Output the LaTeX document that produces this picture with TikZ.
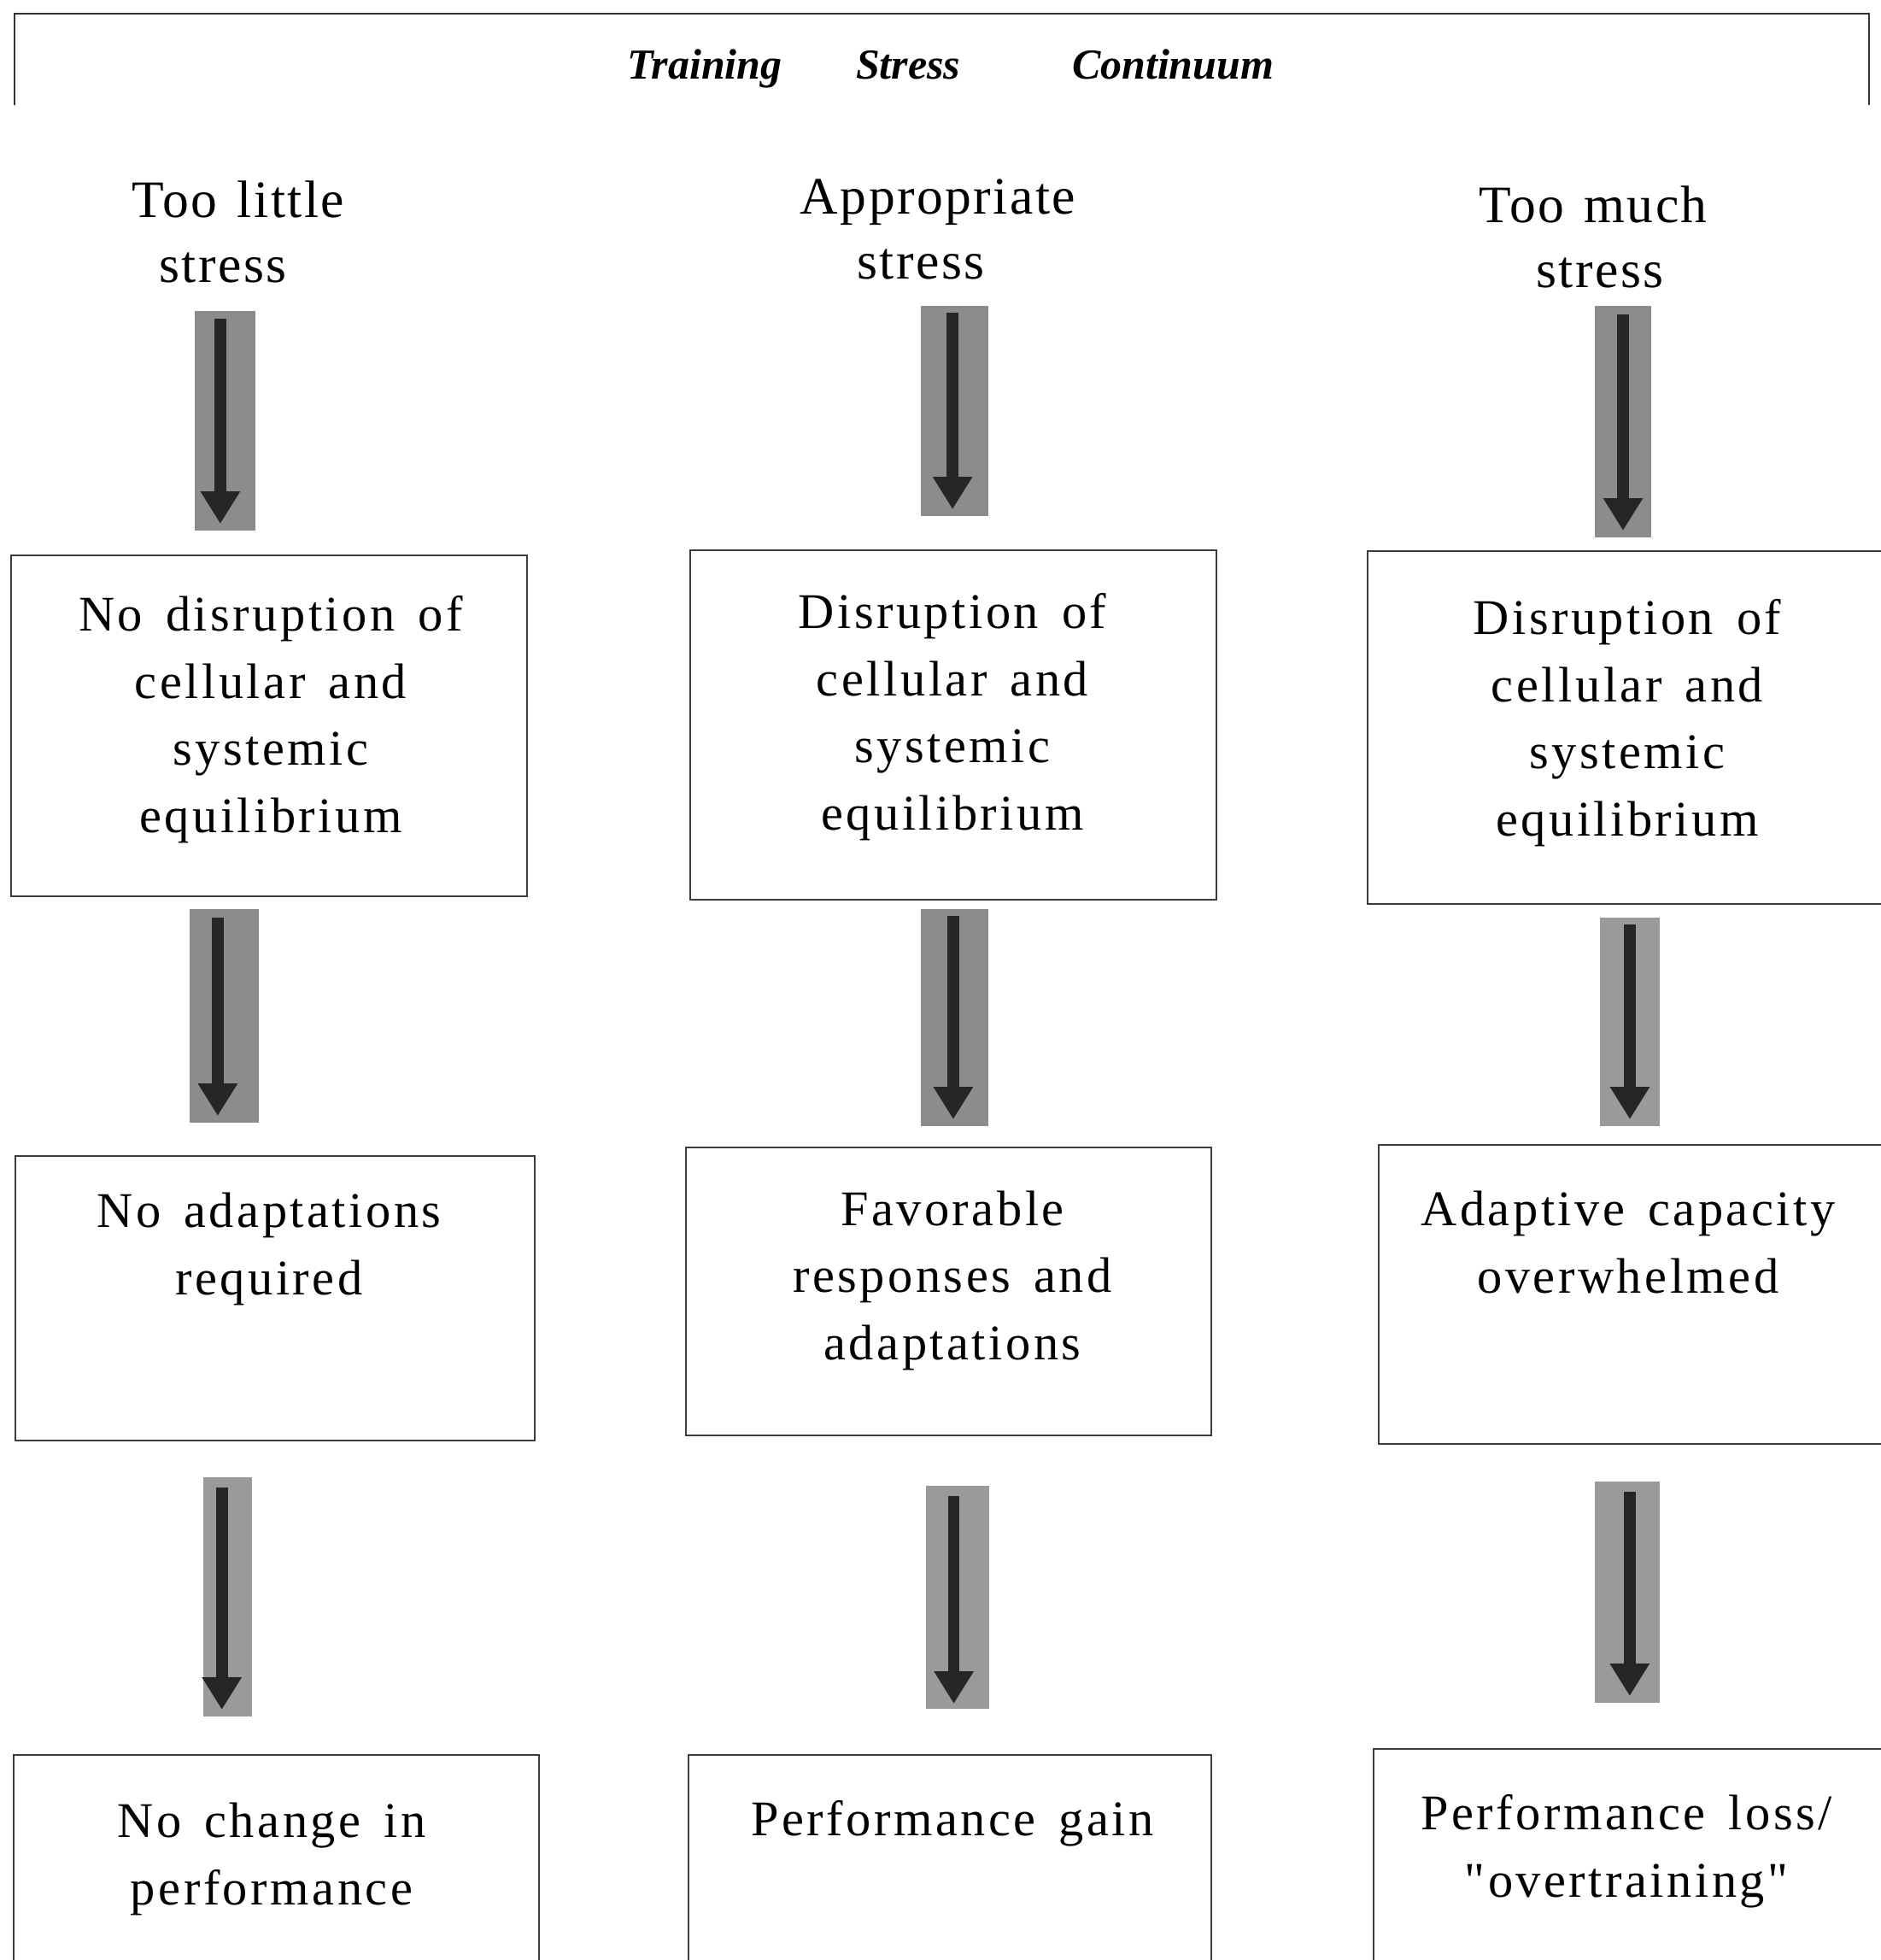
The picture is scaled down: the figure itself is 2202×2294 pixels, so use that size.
\documentclass[tikz,border=0pt]{standalone}
\usepackage{fontspec}
\setmainfont{Liberation Serif}
\newfontfamily\boxfont[LetterSpace=6,WordSpace=1.5]{Liberation Serif}
\newfontfamily\lblfont[LetterSpace=4,WordSpace=1.3]{Liberation Serif}
\usetikzlibrary{arrows.meta}
\definecolor{framecol}{HTML}{333333}
\definecolor{boxcol}{HTML}{3C3C3C}
\definecolor{greyA}{HTML}{8C8C8C}
\definecolor{greyB}{HTML}{9A9A9A}
\definecolor{arrowcol}{HTML}{262626}
\tikzset{
  every node/.style={inner sep=0pt, outer sep=0pt},
  boxnode/.style={draw=boxcol, line width=0.55pt, anchor=north west},
  greybox/.style={fill=#1, draw=none, anchor=north west},
  boxtxt/.style={font=\boxfont\fontsize{14.6pt}{19.6pt}\selectfont, align=center, anchor=base},
  lbl/.style={font=\lblfont\fontsize{15.4pt}{19pt}\selectfont, align=center, anchor=base},
  ttl/.style={font=\fontsize{12.5pt}{14pt}\selectfont\bfseries\itshape, anchor=base west},
  darrow/.style={draw=arrowcol, line width=3.4pt, -{Triangle[width=11pt,length=9.5pt]}},
  framestyle/.style={draw=framecol, line width=0.5pt}
}
\newcommand\rectnode[6]{\node[#1, minimum width={(#5-#3)*0.25pt}, minimum height={(#6-#4)*0.25pt}] (#2) at (#3,#4) {};}
\begin{document}
\begin{tikzpicture}[x=0.25pt, y=-0.25pt]
\useasboundingbox (0,0) rectangle (2202,2294);
\clip (0,0) rectangle (2202,2294);
% header frame
\coordinate (fl) at (17,123);
\coordinate (ftl) at (17,16);
\coordinate (ftr) at (2188,16);
\coordinate (fr) at (2188,123);
\draw[framestyle] (fl) -- (ftl) -- (ftr) -- (fr);
\node[ttl] (ttrain) at (734,92) {Training};
\node[ttl] (tstress) at (1002,92) {Stress};
\node[ttl] (tcont) at (1255,92) {Continuum};
% column labels (anchor = baseline of last line)
\node[lbl] (l1) at (279,330) {Too little\\stress\hspace*{9pt}};
\node[lbl] (l2) at (1098,326) {Appropriate\\stress\hspace*{10pt}};
\node[lbl] (l3) at (1865,336) {Too much\\\hspace*{4pt}stress};
% arrow panels
\rectnode{greybox=greyA}{a1}{228}{364}{299}{621}
\rectnode{greybox=greyA}{a2}{222}{1064}{303}{1314}
\rectnode{greybox=greyB}{a3}{238}{1729}{295}{2009}
\rectnode{greybox=greyA}{b1}{1078}{358}{1157}{604}
\rectnode{greybox=greyA}{b2}{1078}{1064}{1157}{1318}
\rectnode{greybox=greyB}{b3}{1084}{1739}{1158}{2000}
\rectnode{greybox=greyA}{c1}{1867}{358}{1933}{629}
\rectnode{greybox=greyB}{c2}{1873}{1074}{1943}{1318}
\rectnode{greybox=greyB}{c3}{1867}{1734}{1943}{1993}
\draw[darrow] ([xshift=-1.4pt,yshift=-2.2pt]a1.north) -- ([xshift=-1.4pt,yshift=2pt]a1.south);
\draw[darrow] ([xshift=-1.9pt,yshift=-2.5pt]a2.north) -- ([xshift=-1.9pt,yshift=2pt]a2.south);
\draw[darrow] ([xshift=-1.7pt,yshift=-3pt]a3.north) -- ([xshift=-1.7pt,yshift=2pt]a3.south);
\draw[darrow] ([xshift=-0.6pt,yshift=-2pt]b1.north) -- ([xshift=-0.6pt,yshift=2pt]b1.south);
\draw[darrow] ([xshift=-0.4pt,yshift=-2pt]b2.north) -- ([xshift=-0.4pt,yshift=2pt]b2.south);
\draw[darrow] ([xshift=-1.1pt,yshift=-3pt]b3.north) -- ([xshift=-1.1pt,yshift=1.5pt]b3.south);
\draw[darrow] ([yshift=-2.5pt]c1.north) -- ([yshift=2pt]c1.south);
\draw[darrow] ([yshift=-2pt]c2.north) -- ([yshift=2pt]c2.south);
\draw[darrow] ([xshift=0.7pt,yshift=-3pt]c3.north) -- ([xshift=0.7pt,yshift=2pt]c3.south);
% boxes
\rectnode{boxnode}{p11}{13}{650}{617}{1049}
\rectnode{boxnode}{p12}{808}{644}{1424}{1053}
\rectnode{boxnode}{p13}{1601}{645}{2212}{1058}
\rectnode{boxnode}{p21}{18}{1353}{626}{1686}
\rectnode{boxnode}{p22}{803}{1343}{1418}{1680}
\rectnode{boxnode}{p23}{1614}{1340}{2212}{1690}
\rectnode{boxnode}{p31}{16}{2054}{631}{2320}
\rectnode{boxnode}{p32}{806}{2054}{1418}{2320}
\rectnode{boxnode}{p33}{1608}{2047}{2212}{2320}
% box texts (anchor = baseline of last line)
\node[boxtxt] (t11) at (317,974) {No disruption of\\cellular and\\systemic\\equilibrium};
\node[boxtxt] (t12) at (1115,971) {Disruption of\\cellular and\\systemic\\equilibrium};
\node[boxtxt] (t13) at (1905,978) {Disruption of\\cellular and\\systemic\\equilibrium};
\node[boxtxt] (t21) at (315,1515) {No adaptations\\required};
\node[boxtxt] (t22) at (1115,1591) {Favorable\\responses and\\adaptations};
\node[boxtxt] (t23) at (1906,1513) {Adaptive capacity\\overwhelmed};
\node[boxtxt] (t31) at (318,2229) {No change in\\performance};
\node[boxtxt] (t32) at (1115,2148) {Performance gain};
\node[boxtxt] (t33) at (1904,2220) {Performance loss/\\"overtraining"};
\end{tikzpicture}
\end{document}
